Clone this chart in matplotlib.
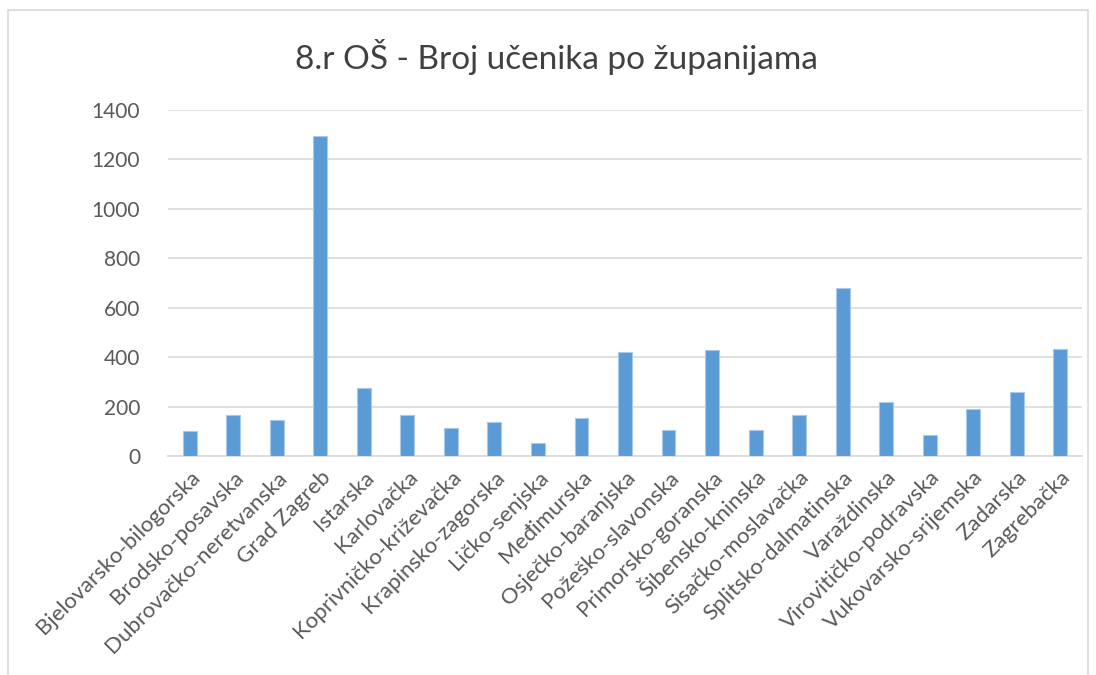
import matplotlib.pyplot as plt
from matplotlib.patches import Rectangle

plt.rcParams['font.family'] = ['Lato', 'DejaVu Sans']

zupanije = ['Bjelovarsko-bilogorska', 'Brodsko-posavska', 'Dubrovačko-neretvanska',
            'Grad Zagreb', 'Istarska', 'Karlovačka', 'Koprivničko-križevačka',
            'Krapinsko-zagorska', 'Ličko-senjska', 'Međimurska', 'Osječko-baranjska',
            'Požeško-slavonska', 'Primorsko-goranska', 'Šibensko-kninska',
            'Sisačko-moslavačka', 'Splitsko-dalmatinska', 'Varaždinska',
            'Virovitičko-podravska', 'Vukovarsko-srijemska', 'Zadarska', 'Zagrebačka']
ucenici = [101, 165, 146, 1296, 276, 166, 112, 139, 53, 153, 422,
           107, 429, 105, 166, 678, 220, 85, 189, 260, 434]
yticks = [0, 200, 400, 600, 800, 1000, 1200, 1400]

fig = plt.figure(figsize=(10.96, 6.75), dpi=100)
fig.patches.append(Rectangle((8/1096, -0.01), 1080/1096, 1 - 10/675 + 0.01,
                             transform=fig.transFigure, fill=False,
                             edgecolor='#d9d9d9', linewidth=1.2))

ax = fig.add_axes([168/1096, 1 - 456/675, 914/1096, 346/675])
x = range(len(zupanije))
ax.bar(x, ucenici, width=0.32, color='#5b9bd5', edgecolor='#a9c8ea', linewidth=0.8, zorder=3)

ax.set_xlim(-0.5, len(zupanije) - 0.5)
ax.set_ylim(0, 1400)
ax.set_yticks(yticks)
ax.set_yticklabels([str(v) for v in yticks], fontsize=15, color='#595959')
ax.set_xticks(list(x))
ax.set_xticklabels(zupanije, rotation=45, ha='right', rotation_mode='anchor',
                   fontsize=16, color='#595959')
ax.tick_params(axis='both', length=0)
ax.tick_params(axis='y', pad=20)
ax.tick_params(axis='x', pad=8)
ax.grid(axis='y', color='#d9d9d9', linewidth=1.2, zorder=0)
for s in ['top', 'right', 'left']:
    ax.spines[s].set_visible(False)
ax.spines['bottom'].set_color('#d9d9d9')
ax.spines['bottom'].set_linewidth(1.2)

fig.text(556/1096, 1 - 57/675, '8.r OŠ - Broj učenika po županijama',
         ha='center', va='center', fontsize=24, color='#404040')

fig.savefig('out.png', dpi=100)
